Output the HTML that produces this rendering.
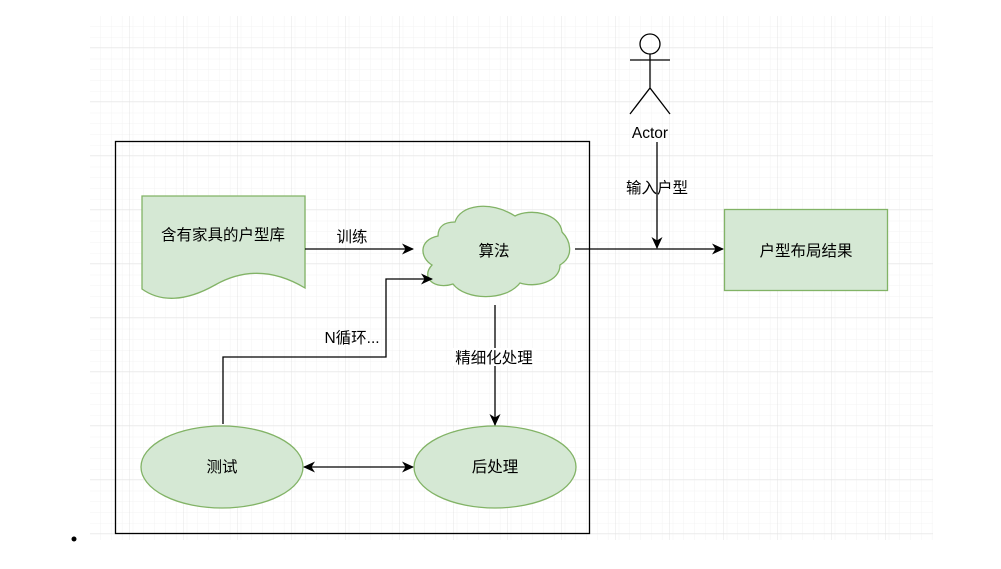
<!DOCTYPE html>
<html><head><meta charset="utf-8"><style>
body{margin:0;background:#fff;width:1001px;height:564px;overflow:hidden}
text{font-family:"Liberation Sans","Noto Sans CJK SC",sans-serif;font-size:15.5px;fill:#000}
</style></head><body>
<svg width="1001" height="564" viewBox="0 0 1001 564" xmlns="http://www.w3.org/2000/svg">
<defs>
<pattern id="minor" x="90" y="16" width="10.8" height="10.8" patternUnits="userSpaceOnUse"><path d="M10.8 0V10.8M0 10.8H10.8" stroke="#f3f3f3" stroke-width="1" fill="none"/></pattern>
<pattern id="major" x="21" y="-7" width="54" height="54" patternUnits="userSpaceOnUse"><path d="M0 0V54M0 0H54" stroke="#e4e4e4" stroke-width="1" fill="none"/></pattern>
<marker id="ar" viewBox="0 0 12 12" refX="11" refY="6" markerWidth="12" markerHeight="12" markerUnits="userSpaceOnUse" orient="auto-start-reverse"><path d="M0 0.5L12 6L0 11.5L3.5 6Z" fill="#000"/></marker>
</defs>
<rect x="90" y="16" width="843" height="524" fill="url(#minor)"/>
<rect x="90" y="16" width="843" height="524" fill="url(#major)"/>
<rect x="115.5" y="141.5" width="474" height="392" fill="none" stroke="#000" stroke-width="1.3"/>
<path d="M142 196H305V288C275 270 245 268 215 285C185 302 160 302 142 289Z" fill="#d5e8d4" stroke="#82b366" stroke-width="1.3"/>
<text x="223" y="240" text-anchor="middle">含有家具的户型库</text>
<path d="M455 222C460 205 490 200 515 216C530 208 560 213 562 232C570 240 575 256 560 265C560 282 535 288 520 283C505 302 465 300 453 284C435 290 420 278 432 265C420 258 418 240 438 236C438 226 445 222 455 222Z" fill="#d5e8d4" stroke="#82b366" stroke-width="1.3"/>
<text x="494" y="256" text-anchor="middle">算法</text>
<rect x="724.5" y="209.5" width="163" height="81" fill="#d5e8d4" stroke="#82b366" stroke-width="1.3"/>
<text x="806" y="256" text-anchor="middle">户型布局结果</text>
<ellipse cx="222" cy="467" rx="81" ry="41" fill="#d5e8d4" stroke="#82b366" stroke-width="1.3"/>
<text x="222" y="472" text-anchor="middle">测试</text>
<ellipse cx="495" cy="467" rx="81" ry="41" fill="#d5e8d4" stroke="#82b366" stroke-width="1.3"/>
<text x="495" y="472" text-anchor="middle">后处理</text>
<g stroke="#000" stroke-width="1.3" fill="none">
<path d="M305 249H413" marker-end="url(#ar)"/>
<path d="M223 424V357H386V279H432" marker-end="url(#ar)"/>
<path d="M495 305V425" marker-end="url(#ar)"/>
<path d="M304 467H413" marker-start="url(#ar)" marker-end="url(#ar)"/>
<path d="M575 249H723" marker-end="url(#ar)"/>
<path d="M657 142V248" marker-end="url(#ar)"/>
<circle cx="650" cy="44" r="10"/>
<path d="M650 54V88M630 60H670M630 114L650 88L670 114"/>
</g>
<text x="352" y="242" text-anchor="middle">训练</text>
<text x="352" y="343" text-anchor="middle">N循环...</text>
<rect x="452" y="348" width="84" height="18" fill="#fff"/>
<text x="494" y="363" text-anchor="middle">精细化处理</text>
<text x="657" y="193" text-anchor="middle">输入户型</text>
<text x="650" y="138" text-anchor="middle">Actor</text>
<circle cx="74" cy="539" r="2.5" fill="#000"/>
</svg>
</body></html>
